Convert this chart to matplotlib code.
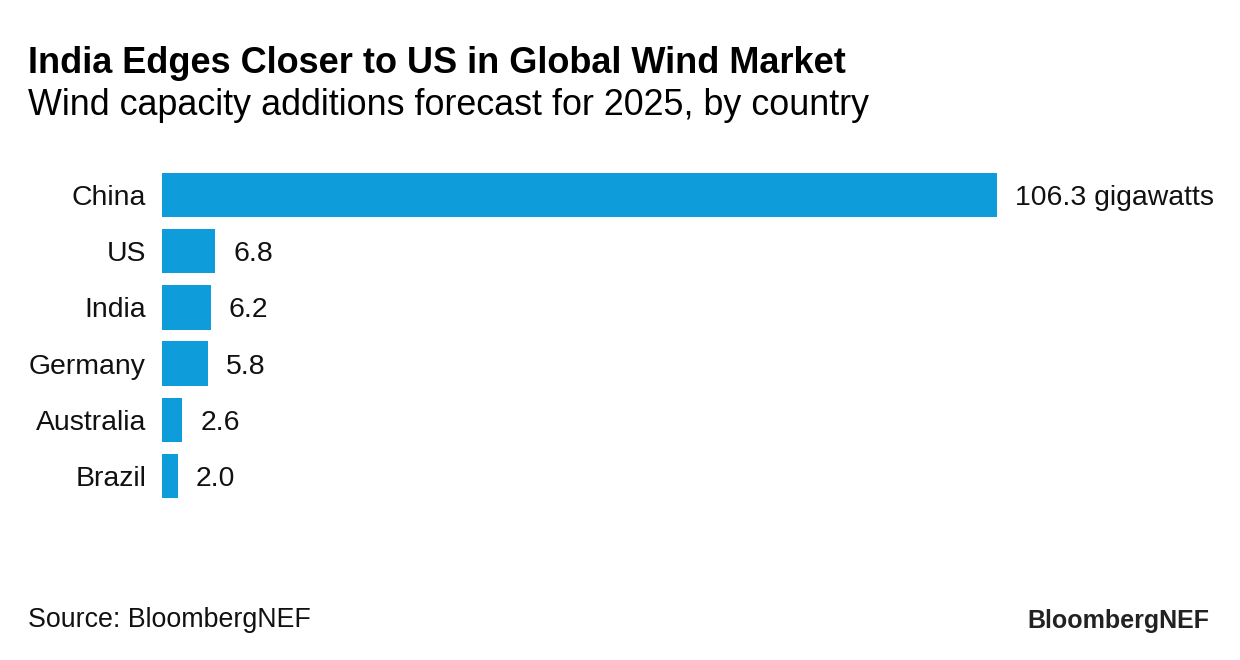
import matplotlib
matplotlib.use("Agg")
import matplotlib.pyplot as plt

countries = ["China", "US", "India", "Germany", "Australia", "Brazil"]
values = [106.3, 6.8, 6.2, 5.8, 2.6, 2.0]
value_labels = ["106.3 gigawatts", "6.8", "6.2", "5.8", "2.6", "2.0"]

title = "India Edges Closer to US in Global Wind Market"
subtitle = "Wind capacity additions forecast for 2025, by country"
source = "Source: BloombergNEF"
logo = "BloombergNEF"

plt.rcParams["font.family"] = ["Liberation Sans", "DejaVu Sans"]

W, H = 1240, 660
fig = plt.figure(figsize=(W / 100, H / 100), dpi=100)
fig.patch.set_facecolor("white")

# axes placed in pixel terms: bars start at x=162, China bar ends at x=997
left, right = 162 / W, 997 / W
top, bottom = 1 - 166.9 / H, 1 - 504.1 / H
ax = fig.add_axes([left, bottom, right - left, top - bottom])

y = list(range(len(countries)))
ax.barh(y, values, height=0.79, color="#0E9DDA", edgecolor="none")
ax.set_xlim(0, values[0])
ax.set_ylim(len(countries) - 0.5, -0.5)

for yi, v, lab in zip(y, values, value_labels):
    ax.annotate(lab, (v, yi), xytext=(18, 0), textcoords="offset pixels",
                va="center_baseline", ha="left", fontsize=20.4, color="#111111",
                annotation_clip=False)

ax.set_yticks(y)
ax.set_yticklabels(countries, fontsize=20.4, color="#111111")
ax.tick_params(axis="y", length=0, pad=11.5)
ax.set_xticks([])
for s in ax.spines.values():
    s.set_visible(False)

fig.text(28 / W, 1 - 73 / H, title, fontsize=26, fontweight="bold", color="#000000",
         ha="left", va="baseline")
fig.text(28 / W, 1 - 115 / H, subtitle, fontsize=25.8, color="#000000",
         ha="left", va="baseline")
fig.text(28 / W, 1 - 627 / H, source, fontsize=19.3, color="#111111",
         ha="left", va="baseline")
fig.text(1209 / W, 1 - 628 / H, logo, fontsize=18, fontweight="bold", color="#222222",
         ha="right", va="baseline")

fig.savefig("out.png", dpi=100, facecolor="white")
